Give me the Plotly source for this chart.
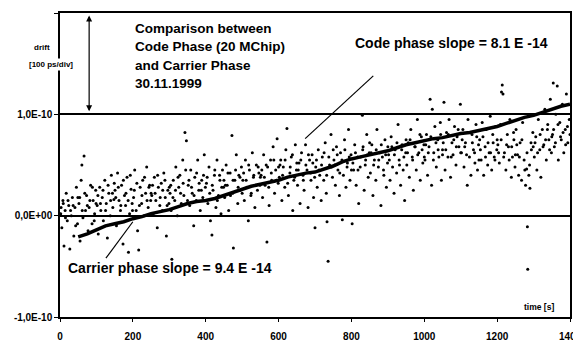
import plotly.graph_objects as go

# ---- data (y in units of 1E-10 s) ----
x_ticks = [0, 200, 400, 600, 800, 1000, 1200, 1400]
x_tick_labels = ["0", "200", "400", "600", "800", "1000", "1200", "1400"]
y_ticks = [-1, 0, 1, 2]
y_tick_labels = ["-1,0E-10", "0,0E+00", "1,0E-10", "2,0E-10"]

code_t = [
    2, 5, 8, 11, 14, 17, 20, 24, 27, 31, 34, 38, 41, 45, 48,
    52, 55, 58, 60, 63, 66, 70, 73, 77, 80, 84, 88, 91, 95, 98,
    102, 105, 109, 112, 116, 119, 123, 127, 130, 134, 138, 141, 145, 148,
    151, 155, 158, 162, 166, 169, 173, 177, 180, 184, 188, 191, 195, 198,
    202, 205, 209, 213, 216, 220, 224, 227, 231, 235, 238, 242, 246, 249,
    252, 256, 259, 263, 267, 270, 274, 278, 281, 285, 289, 292, 296, 299,
    302, 305, 307, 311, 315, 318, 322, 326, 329, 333, 337, 340, 343, 347,
    352, 356, 359, 363, 367, 370, 374, 378, 381, 385, 389, 392, 396, 399,
    402, 406, 409, 413, 417, 420, 424, 428, 431, 435, 439, 442, 446, 449,
    452, 456, 459, 463, 467, 472, 474, 476, 480, 484, 488, 491, 495, 498,
    502, 506, 509, 513, 517, 520, 524, 528, 531, 535, 539, 542, 546, 549,
    552, 556, 559, 563, 568, 570, 574, 578, 581, 585, 589, 592, 596, 599,
    602, 606, 609, 613, 617, 620, 623, 627, 631, 635, 639, 642, 646, 649,
    652, 656, 659, 663, 667, 670, 674, 678, 681, 685, 689, 692, 696, 700,
    702, 706, 709, 713, 717, 720, 724, 728, 731, 733, 736, 740, 744, 748,
    752, 756, 759, 763, 767, 770, 775, 778, 781, 785, 789, 792, 796, 799,
    802, 806, 809, 813, 817, 820, 824, 830, 831, 835, 839, 842, 846, 849,
    852, 856, 859, 863, 867, 870, 874, 878, 881, 885, 889, 892, 896, 899,
    902, 906, 909, 913, 917, 920, 924, 928, 931, 935, 939, 942, 946, 949,
    952, 956, 959, 963, 967, 970, 974, 978, 981, 985, 989, 992, 996, 999,
    1002, 1006, 1009, 1013, 1016, 1020, 1022, 1026, 1029, 1033, 1037, 1040, 1044, 1047,
    1050, 1054, 1057, 1061, 1065, 1068, 1072, 1076, 1079, 1083, 1087, 1090, 1095, 1099,
    1102, 1106, 1109, 1113, 1118, 1120, 1124, 1128, 1131, 1135, 1139, 1142, 1146, 1149,
    1152, 1156, 1159, 1163, 1167, 1170, 1174, 1178, 1181, 1185, 1189, 1192, 1196, 1199,
    1202, 1206, 1209, 1212, 1214, 1216, 1220, 1224, 1228, 1231, 1235, 1239, 1242, 1246, 1249,
    1252, 1256, 1259, 1263, 1267, 1270, 1274, 1278, 1281, 1283, 1284, 1287, 1290, 1294, 1298,
    1302, 1306, 1309, 1313, 1317, 1320, 1324, 1328, 1331, 1335, 1339, 1342, 1346, 1349,
    1352, 1354, 1357, 1361, 1365, 1368, 1372, 1376, 1379, 1383, 1387, 1390, 1394, 1398,
    # denser core
    3, 9, 15, 22, 29, 36, 43, 49,
    54, 61, 68, 75, 82, 89, 94, 99,
    104, 111, 118, 125, 132, 139, 144, 149,
    153, 160, 167, 174, 181, 187, 193, 199,
    204, 211, 218, 225, 232, 239, 244, 250,
    254, 261, 268, 275, 282, 288, 294, 300,
    304, 310, 317, 324, 331, 338, 345, 350,
    354, 361, 368, 375, 382, 388, 394, 400,
    404, 411, 418, 425, 432, 438, 444, 450,
    454, 461, 468, 475, 482, 489, 494, 500,
    504, 511, 518, 525, 532, 538, 544, 550,
    554, 561, 566, 573, 580, 587, 594, 600,
    604, 611, 618, 625, 632, 638, 644, 650,
    654, 661, 668, 675, 682, 688, 694, 699,
    704, 711, 718, 725, 732, 738, 745, 750,
    754, 761, 768, 774, 782, 788, 794, 800,
    804, 811, 818, 825, 832, 838, 844, 850,
    854, 861, 868, 875, 882, 888, 894, 900,
    904, 911, 918, 925, 932, 938, 944, 950,
    954, 961, 968, 975, 982, 988, 994, 1000,
    1004, 1011, 1018, 1025, 1032, 1038, 1045, 1050,
    1052, 1059, 1066, 1074, 1081, 1088, 1093, 1100,
    1104, 1111, 1116, 1125, 1132, 1138, 1144, 1150,
    1154, 1161, 1168, 1175, 1182, 1188, 1194, 1200,
    1204, 1211, 1218, 1226, 1233, 1240, 1245, 1250,
    1254, 1261, 1268, 1276, 1282, 1289, 1293, 1299,
    1304, 1311, 1318, 1326, 1333, 1338, 1344, 1350,
    1355, 1360, 1367, 1374, 1381, 1388, 1393, 1400,
]
code_v = [
    0.02, -0.12, 0.15, -0.30, 0.05, 0.22, -0.05, 0.10, -0.33, 0.00, 0.18, -0.20, 0.08, 0.28, -0.08,
    0.12, -0.25, 0.35, 0.50, -0.02, 0.59, 0.05, 0.20, -0.15, 0.08, 0.30, -0.08, 0.15, 0.02, 0.25,
    0.10, -0.18, 0.28, 0.05, 0.18, -0.05, 0.35, 0.12, -0.22, 0.22, 0.00, 0.40, 0.08, 0.16,
    0.25, -0.10, 0.42, 0.15, 0.05, 0.30, -0.28, 0.20, 0.10, 0.38, -0.36, 0.02, 0.26, 0.12,
    0.18, 0.45, 0.05, -0.15, -0.34, 0.28, 0.12, 0.35, 0.00, 0.22, 0.48, 0.08, 0.30, 0.15,
    0.20, 0.02, 0.38, 0.15, -0.12, 0.28, 0.10, 0.32, 0.05, 0.42, 0.18, -0.20, 0.25, 0.12,
    0.22, 0.05, -0.43, 0.35, 0.15, 0.48, 0.00, 0.28, 0.40, 0.12, 0.55, 0.20, 0.82, 0.74,
    0.30, 0.10, 0.45, 0.22, -0.10, 0.38, 0.15, 0.55, 0.25, 0.05, 0.35, 0.18, 0.60, 0.28,
    0.32, 0.12, 0.48, -0.05, -0.19, 0.25, 0.40, 0.08, 0.55, 0.20, 0.35, 0.02, 0.45, 0.28,
    0.18, 0.50, 0.30, 0.05, 0.42, 0.79, 0.22, -0.32, 0.35, 0.60, 0.12, 0.40, 0.25, 0.48,
    0.35, 0.15, 0.55, 0.28, -0.05, 0.45, 0.20, 0.62, 0.38, 0.08, 0.50, 0.25, 0.42, 0.30,
    0.40, 0.18, 0.60, 0.30, -0.26, 0.48, 0.10, 0.55, 0.35, 0.68, 0.22, 0.45, 0.76, 0.32,
    0.38, 0.55, 0.15, 0.48, 0.28, 0.65, 0.86, 0.20, 0.42, 0.58, 0.05, 0.35, 0.70, 0.45,
    0.30, 0.52, 0.12, 0.62, 0.40, 0.25, 0.70, 0.45, 0.08, 0.55, 0.35, 0.60, 0.18, -0.12,
    0.48, 0.28, 0.65, 0.40, 0.15, 0.58, 0.35, 0.72, 0.22, -0.06, -0.45, 0.50, 0.80, 0.38,
    0.55, 0.30, 0.68, 0.45, 0.20, 0.62, -0.04, 0.40, 0.75, 0.28, 0.52, 0.85, 0.35, 0.60,
    -0.08, 0.45, 0.70, 0.30, 0.58, 0.12, 0.48, 0.99, 0.65, 0.25, 0.55, 0.80, 0.38, 0.62,
    0.42, 0.70, 0.20, 0.55, 0.35, 0.85, 0.48, 0.62, 0.10, 0.58, 0.40, 0.75, 0.28, 0.52,
    0.60, 0.35, 0.78, 0.48, 0.22, 0.65, 0.42, 0.90, 0.55, 0.30, 0.70, 0.45, 0.15, 0.62,
    0.50, 0.72, 0.38, 0.85, 0.58, 0.25, 0.68, 0.45, 0.95, 0.62, 0.35, 0.78, 0.52, 0.70,
    0.55, 0.80, 0.40, 0.68, 1.15, 0.30, 1.05, 0.62, 0.88, 0.48, 0.75, 0.58, 0.92, 0.35,
    0.65, 1.12, 0.45, 0.82, 0.58, 0.95, 0.38, 0.72, 0.60, 0.88, 0.50, 0.78, 0.68, 1.10,
    0.62, 0.85, 0.48, 0.72, 0.30, 0.95, 0.58, 0.40, 0.80, 0.65, 0.52, 0.90, 0.45, 0.70,
    0.75, 0.55, 0.92, 0.40, 0.68, 0.85, 0.50, 0.62, 0.98, 0.45, 0.72, 0.58, 0.88, 0.65,
    0.70, 0.52, 0.90, 1.22, 1.29, 1.20, 0.62, 0.45, 0.80, 0.68, 0.95, 0.38, 0.58, 0.75, 0.48,
    0.85, 0.60, 0.40, 0.72, 0.35, 0.92, 0.55, 0.30, 0.46, -0.11, -0.53, 0.40, 0.27, 0.65, 0.82,
    0.58, 0.78, 0.45, 0.95, 0.65, 0.38, 0.85, 0.70, 1.05, 0.55, 0.90, 0.75, 1.15, 0.62,
    0.80, 1.31, 0.68, 1.00, 1.28, 0.55, 0.92, 0.75, 1.10, 0.62, 0.85, 1.20, 0.72, 0.95,
    # denser core
    0.08, 0.12, -0.02, 0.15, 0.05, 0.10, -0.10, 0.18,
    0.18, 0.05, 0.22, 0.10, 0.15, 0.28, -0.05, 0.12,
    0.20, 0.12, 0.25, 0.05, 0.30, 0.15, 0.22, 0.32,
    0.18, 0.28, 0.10, 0.35, 0.22, 0.15, 0.40, 0.05,
    0.25, 0.32, 0.10, 0.20, 0.38, 0.15, 0.28, 0.22,
    0.30, 0.22, 0.40, 0.18, 0.25, 0.35, 0.10, 0.28,
    0.30, 0.18, 0.25, 0.38, 0.22, 0.32, 0.45, 0.15,
    0.35, 0.28, 0.20, 0.42, 0.32, 0.25, 0.40, 0.15,
    0.38, 0.22, 0.30, 0.45, 0.15, 0.40, 0.28, 0.35,
    0.30, 0.42, 0.20, 0.35, 0.45, 0.28, 0.38, 0.22,
    0.42, 0.35, 0.50, 0.22, 0.40, 0.30, 0.48, 0.38,
    0.45, 0.38, 0.50, 0.28, 0.42, 0.55, 0.35, 0.48,
    0.50, 0.40, 0.55, 0.32, 0.48, 0.60, 0.38, 0.52,
    0.45, 0.55, 0.35, 0.50, 0.60, 0.42, 0.52, 0.38,
    0.55, 0.45, 0.50, 0.62, 0.40, 0.58, 0.48, 0.65,
    0.50, 0.60, 0.42, 0.55, 0.65, 0.48, 0.58, 0.45,
    0.52, 0.62, 0.45, 0.58, 0.68, 0.50, 0.60, 0.72,
    0.62, 0.50, 0.65, 0.55, 0.70, 0.45, 0.60, 0.68,
    0.55, 0.68, 0.60, 0.72, 0.50, 0.65, 0.58, 0.75,
    0.62, 0.75, 0.55, 0.68, 0.60, 0.80, 0.65, 0.58,
    0.70, 0.62, 0.78, 0.55, 0.72, 0.65, 0.80, 0.60,
    0.72, 0.65, 0.80, 0.58, 0.75, 0.68, 0.85, 0.62,
    0.75, 0.68, 0.60, 0.82, 0.72, 0.62, 0.78, 0.55,
    0.65, 0.78, 0.58, 0.72, 0.62, 0.80, 0.55, 0.75,
    0.62, 0.75, 0.58, 0.70, 0.55, 0.68, 0.82, 0.60,
    0.70, 0.58, 0.75, 0.45, 0.62, 0.50, 0.72, 0.68,
    0.72, 0.62, 0.80, 0.68, 0.75, 0.85, 0.65, 0.78,
    0.85, 0.72, 0.90, 0.78, 0.82, 0.70, 0.88, 0.80,
]

carrier_t = [50, 75, 100, 125, 150, 175, 200, 225, 250, 275, 300, 325, 350, 375, 400,
             425, 450, 475, 500, 525, 550, 575, 600, 625, 650, 675, 700, 725, 750, 775,
             800, 825, 850, 875, 900, 925, 950, 975, 1000, 1025, 1050, 1075, 1100, 1125,
             1150, 1175, 1200, 1225, 1250, 1275, 1300, 1325, 1350, 1375, 1400]
carrier_v = [-0.21, -0.18, -0.14, -0.10, -0.08, -0.06, -0.03, -0.01, 0.02, 0.04, 0.06,
             0.09, 0.12, 0.14, 0.15, 0.17, 0.20, 0.23, 0.26, 0.29, 0.31, 0.33, 0.35, 0.38,
             0.40, 0.42, 0.43, 0.46, 0.49, 0.53, 0.56, 0.58, 0.60, 0.62, 0.64, 0.67, 0.70,
             0.72, 0.74, 0.76, 0.77, 0.79, 0.81, 0.82, 0.84, 0.86, 0.88, 0.91, 0.94, 0.97,
             0.99, 1.02, 1.05, 1.08, 1.10]

title_lines = ["Comparison between", "Code Phase (20 MChip)", "and Carrier Phase", "30.11.1999"]
title_line_y = [1.85, 1.665, 1.478, 1.30]

FONT = "Liberation Sans, Arial, sans-serif"

fig = go.Figure()
fig.add_trace(go.Scatter(x=code_t, y=code_v, mode="markers",
                         marker=dict(color="black", size=3), showlegend=False))
fig.add_trace(go.Scatter(x=carrier_t, y=carrier_v, mode="lines",
                         line=dict(color="black", width=3.5), showlegend=False))

# page body has an 8px margin, so the figure is offset by 8px right/down
fig.update_layout(
    width=581, height=335,
    margin=dict(l=52, r=19, t=5, b=26),
    paper_bgcolor="white", plot_bgcolor="white",
    font=dict(family=FONT, color="black"),
    xaxis=dict(range=[0, 1400], tickvals=x_ticks, ticktext=x_tick_labels,
               showgrid=False, zeroline=False, showline=True, linecolor="black",
               linewidth=1.5, mirror=True, ticks="outside", ticklen=3,
               tickcolor="black", ticklabelstandoff=6, automargin=False,
               tickfont=dict(size=10, family=FONT, weight="bold")),
    yaxis=dict(range=[-1, 2], tickvals=y_ticks, ticktext=y_tick_labels,
               showgrid=True, gridcolor="black", gridwidth=1.5, zeroline=False,
               showline=True, linecolor="black", linewidth=1.5, mirror=True,
               ticks="outside", ticklen=4, tickcolor="black", automargin=False,
               tickfont=dict(size=10, family=FONT, weight="bold")),
)

ann_font = dict(family=FONT, size=13.5, color="black", weight="bold")
for line, yv in zip(title_lines, title_line_y):
    fig.add_annotation(x=200, y=yv, xref="x", yref="y", xanchor="left", yanchor="middle",
                       text=line, showarrow=False, align="left", font=ann_font)
slope_font = dict(family=FONT, size=14, color="black", weight="bold")
fig.add_annotation(x=1076, y=1.705, xref="x", yref="y", xanchor="center", yanchor="middle",
                   text="Code phase slope = 8.1 E -14", showarrow=False, font=slope_font)
fig.add_annotation(x=302, y=-0.516, xref="x", yref="y", xanchor="center", yanchor="middle",
                   text="Carrier phase slope = 9.4 E -14", showarrow=False, font=slope_font)
fig.add_annotation(x=1315, y=-0.90, xref="x", yref="y", xanchor="center", yanchor="middle",
                   text="time [s]", showarrow=False,
                   font=dict(family=FONT, size=8.5, color="black", weight="bold"))
fig.add_annotation(x=-0.035, y=1.655, xref="paper", yref="y", xanchor="center", yanchor="middle",
                   text="drift", showarrow=False,
                   font=dict(family=FONT, size=8, color="black", weight="bold"))
fig.add_annotation(x=-0.017, y=1.49, xref="paper", yref="y", xanchor="center", yanchor="middle",
                   text="[100 ps/div]", showarrow=False, bgcolor="white",
                   font=dict(family=FONT, size=8, color="black", weight="bold"))

# double-headed drift arrow
fig.add_annotation(x=80, y=1.03, ax=80, ay=1.99, xref="x", yref="y", axref="x", ayref="y",
                   text="", showarrow=True, arrowhead=2, arrowside="end+start",
                   arrowsize=1, arrowwidth=1.2, arrowcolor="black")
# pointer lines
fig.add_shape(type="line", x0=860, y0=1.38, x1=673, y1=0.76, xref="x", yref="y",
              line=dict(color="black", width=1.2))
fig.add_shape(type="line", x0=126, y0=-0.42, x1=200, y1=-0.06, xref="x", yref="y",
              line=dict(color="black", width=1.2))

fig.write_html("out.html")
